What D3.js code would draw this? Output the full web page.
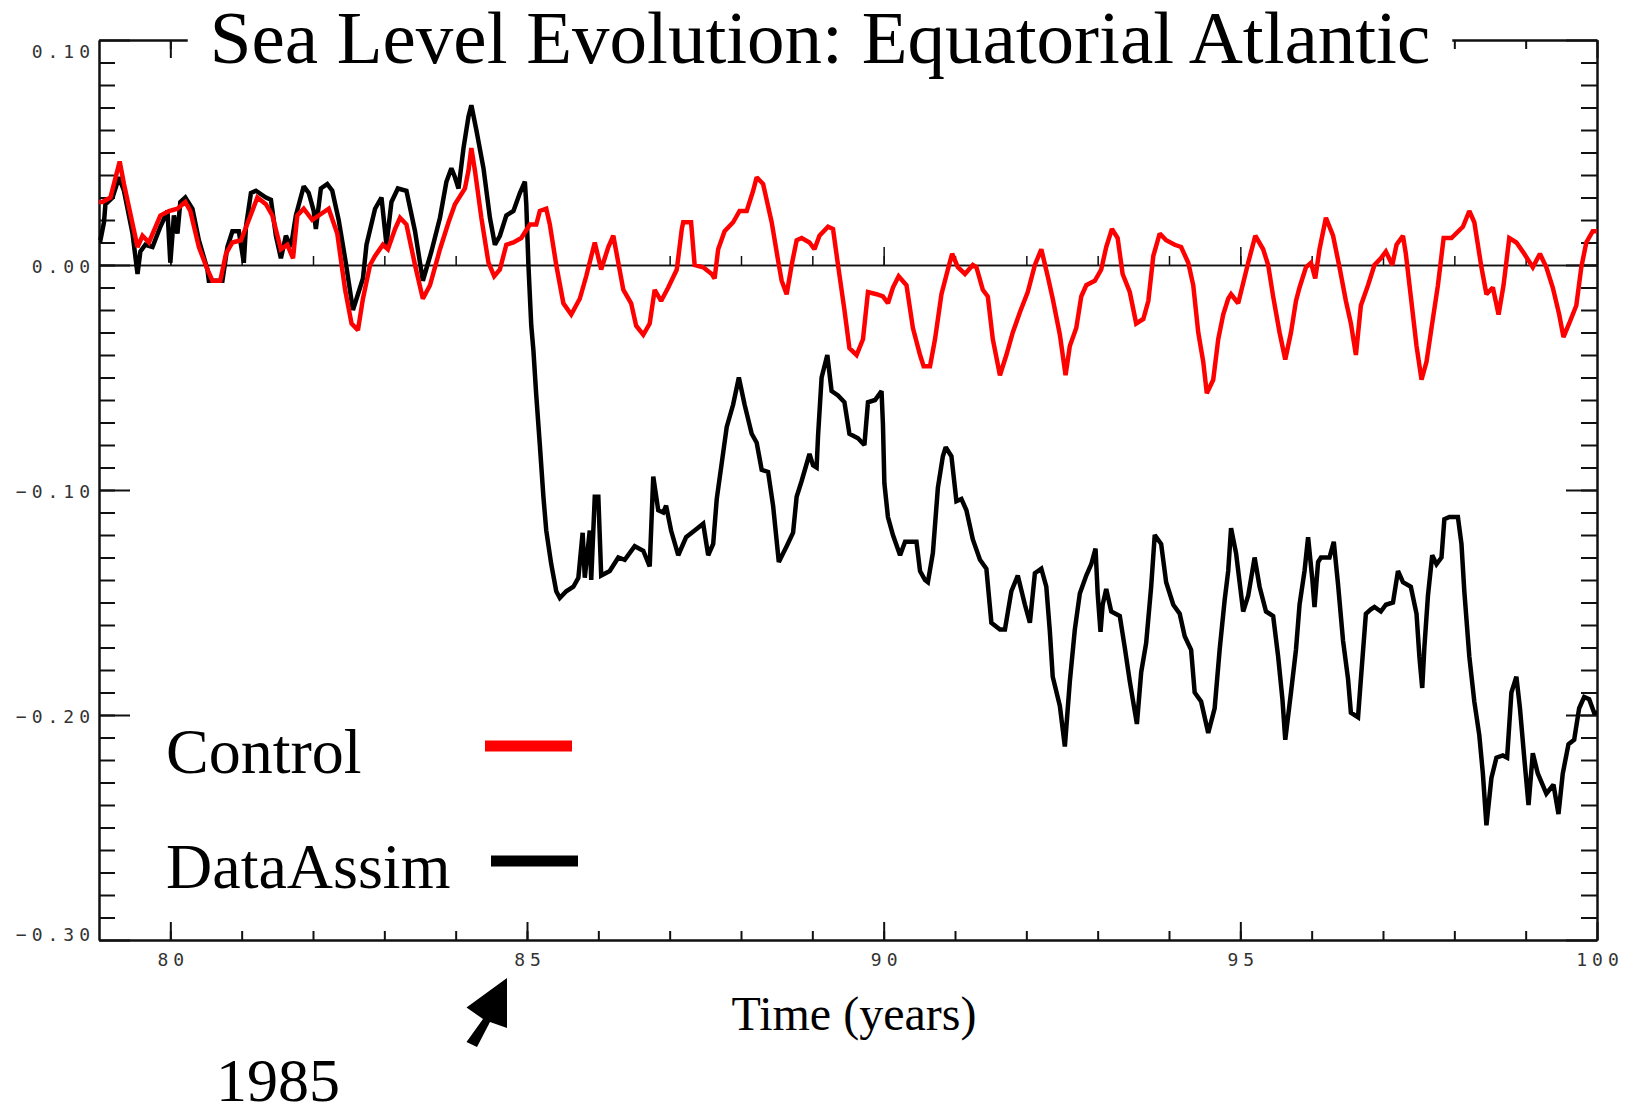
<!DOCTYPE html>
<html>
<head>
<meta charset="utf-8">
<style>
  body { margin: 0; background: #fff; }
  svg { display: block; background: #fff; }
  .axis path, .axis line { stroke: #111; stroke-width: 2; }
  .zero path, .zero line { stroke: #111; stroke-width: 1.5; }
  .axis text { font-family: "DejaVu Sans Mono", monospace; font-size: 18px; fill: #333; letter-spacing: 5px; }
  .serif { font-family: "Liberation Serif", "Times New Roman", serif; fill: #000; }
</style>
</head>
<body>
<svg id="chart" width="1631" height="1109"></svg>
<script src="https://cdn.jsdelivr.net/npm/d3@7"></script>
<script>
// ---- data (time in model years, sea level in m) ----
const controlYears = [79.00, 79.05, 79.16, 79.29, 79.35, 79.54, 79.61, 79.70, 79.86, 79.98, 80.10, 80.21, 80.28, 80.40, 80.52, 80.59, 80.70, 80.78, 80.87, 80.99,
  81.10, 81.22, 81.34, 81.43, 81.55, 81.64, 81.72, 81.78, 81.87, 81.99, 82.08, 82.22, 82.34, 82.45, 82.54, 82.63, 82.70, 82.80, 82.87, 82.98,
  83.05, 83.15, 83.22, 83.31, 83.43, 83.54, 83.64, 83.78, 83.90, 83.99, 84.13, 84.18, 84.22, 84.27, 84.36, 84.46, 84.54, 84.62, 84.71, 84.81,
  84.92, 85.04, 85.13, 85.18, 85.27, 85.32, 85.41, 85.51, 85.62, 85.74, 85.83, 85.95, 86.04, 86.14, 86.21, 86.35, 86.46, 86.53, 86.63, 86.72,
  86.79, 86.88, 86.98, 87.10, 87.17, 87.19, 87.30, 87.35, 87.47, 87.59, 87.63, 87.68, 87.77, 87.89, 87.98, 88.08, 88.17, 88.22, 88.31, 88.43,
  88.52, 88.57, 88.64, 88.71, 88.78, 88.85, 88.96, 89.03, 89.10, 89.22, 89.29, 89.36, 89.45, 89.52, 89.62, 89.71, 89.78, 89.90, 89.99, 90.06,
  90.13, 90.21, 90.32, 90.41, 90.51, 90.56, 90.65, 90.72, 90.81, 90.90, 90.96, 91.04, 91.14, 91.25, 91.30, 91.39, 91.46, 91.53, 91.63, 91.72,
  91.81, 91.91, 92.02, 92.12, 92.21, 92.30, 92.37, 92.47, 92.55, 92.61, 92.70, 92.77, 92.84, 92.96, 93.05, 93.12, 93.20, 93.28, 93.35, 93.45,
  93.54, 93.64, 93.71, 93.78, 93.87, 93.96, 94.08, 94.17, 94.27, 94.34, 94.41, 94.48, 94.53, 94.62, 94.69, 94.76, 94.83, 94.87, 94.97, 95.04,
  95.11, 95.21, 95.32, 95.39, 95.46, 95.55, 95.63, 95.71, 95.78, 95.83, 95.92, 95.99, 96.05, 96.11, 96.20, 96.30, 96.39, 96.48, 96.55, 96.62,
  96.69, 96.79, 96.88, 96.97, 97.04, 97.13, 97.19, 97.28, 97.32, 97.39, 97.47, 97.54, 97.61, 97.68, 97.77, 97.85, 97.96, 98.12, 98.21, 98.28,
  98.38, 98.45, 98.54, 98.62, 98.69, 98.77, 98.87, 98.98, 99.10, 99.20, 99.29, 99.38, 99.47, 99.53, 99.61, 99.71, 99.78, 99.85, 99.94, 100.00];
const controlLevel = [0.028, 0.028, 0.030, 0.046, 0.036, 0.008, 0.013, 0.010, 0.022, 0.024, 0.025, 0.028, 0.024, 0.008, -0.002, -0.007, -0.007, 0.005, 0.010, 0.011,
  0.020, 0.030, 0.027, 0.022, 0.007, 0.009, 0.003, 0.022, 0.025, 0.020, 0.022, 0.025, 0.014, -0.011, -0.026, -0.029, -0.015, 0.000, 0.004, 0.009,
  0.007, 0.016, 0.021, 0.018, 0.000, -0.015, -0.009, 0.007, 0.019, 0.027, 0.034, 0.042, 0.052, 0.042, 0.021, 0.001, -0.005, -0.002, 0.009, 0.010,
  0.012, 0.018, 0.018, 0.024, 0.025, 0.018, 0.000, -0.017, -0.022, -0.015, -0.005, 0.010, -0.002, 0.008, 0.013, -0.011, -0.017, -0.027, -0.031, -0.026,
  -0.011, -0.016, -0.010, -0.002, 0.016, 0.019, 0.019, 0.000, -0.001, -0.004, -0.006, 0.007, 0.015, 0.019, 0.024, 0.024, 0.033, 0.039, 0.036, 0.019,
  0.002, -0.007, -0.013, 0.000, 0.011, 0.012, 0.010, 0.007, 0.013, 0.017, 0.016, 0.000, -0.020, -0.037, -0.040, -0.033, -0.012, -0.013, -0.014, -0.017,
  -0.010, -0.005, -0.009, -0.028, -0.040, -0.045, -0.045, -0.033, -0.013, -0.002, 0.005, -0.001, -0.004, 0.000, -0.001, -0.011, -0.014, -0.033, -0.049, -0.040,
  -0.030, -0.021, -0.012, 0.000, 0.007, -0.005, -0.015, -0.031, -0.049, -0.036, -0.028, -0.014, -0.009, -0.007, -0.002, 0.008, 0.016, 0.012, -0.004, -0.012,
  -0.026, -0.024, -0.016, 0.004, 0.014, 0.011, 0.009, 0.008, 0.001, -0.009, -0.030, -0.043, -0.057, -0.051, -0.033, -0.022, -0.015, -0.013, -0.017, -0.008,
  0.001, 0.013, 0.007, 0.000, -0.014, -0.030, -0.042, -0.030, -0.016, -0.010, -0.001, 0.001, -0.006, 0.007, 0.021, 0.013, -0.001, -0.016, -0.026, -0.040,
  -0.018, -0.009, 0.000, 0.003, 0.006, 0.000, 0.009, 0.013, 0.005, -0.014, -0.036, -0.051, -0.043, -0.028, -0.009, 0.012, 0.012, 0.017, 0.024, 0.019,
  -0.001, -0.013, -0.010, -0.022, -0.009, 0.012, 0.010, 0.005, -0.001, 0.005, -0.001, -0.010, -0.022, -0.032, -0.026, -0.018, -0.001, 0.010, 0.015, 0.015];

const assimYears = [79.00, 79.02, 79.07, 79.09, 79.19, 79.28, 79.35, 79.47, 79.54, 79.58, 79.65, 79.75, 79.86, 79.96, 80.00, 80.05, 80.10, 80.14, 80.21, 80.31,
  80.40, 80.52, 80.54, 80.73, 80.80, 80.87, 80.96, 81.03, 81.06, 81.13, 81.20, 81.34, 81.41, 81.48, 81.55, 81.62, 81.69, 81.76, 81.87, 81.94,
  82.01, 82.04, 82.11, 82.20, 82.27, 82.36, 82.46, 82.56, 82.70, 82.75, 82.87, 82.96, 83.03, 83.10, 83.19, 83.31, 83.43, 83.54, 83.66, 83.78,
  83.87, 83.94, 83.99, 84.04, 84.11, 84.18, 84.22, 84.29, 84.39, 84.48, 84.55, 84.62, 84.71, 84.81, 84.90, 84.97, 84.99, 85.02, 85.06, 85.09,
  85.13, 85.18, 85.23, 85.27, 85.34, 85.41, 85.46, 85.55, 85.65, 85.72, 85.78, 85.81, 85.88, 85.90, 85.95, 86.00, 86.04, 86.16, 86.28, 86.37,
  86.51, 86.63, 86.72, 86.77, 86.84, 86.91, 86.95, 87.02, 87.12, 87.23, 87.35, 87.47, 87.54, 87.61, 87.66, 87.73, 87.80, 87.89, 87.97, 88.05,
  88.15, 88.22, 88.29, 88.38, 88.45, 88.53, 88.64, 88.73, 88.78, 88.85, 88.96, 89.01, 89.06, 89.08, 89.13, 89.21, 89.27, 89.36, 89.45, 89.52,
  89.64, 89.73, 89.78, 89.88, 89.97, 89.99, 90.01, 90.06, 90.13, 90.23, 90.30, 90.46, 90.51, 90.58, 90.62, 90.69, 90.76, 90.83, 90.87, 90.95,
  91.02, 91.09, 91.16, 91.25, 91.35, 91.44, 91.51, 91.63, 91.70, 91.79, 91.88, 91.98, 92.05, 92.12, 92.21, 92.28, 92.33, 92.37, 92.47, 92.54,
  92.61, 92.68, 92.75, 92.84, 92.91, 92.97, 93.00, 93.04, 93.07, 93.12, 93.19, 93.31, 93.38, 93.45, 93.55, 93.61, 93.68, 93.75, 93.80, 93.89,
  93.96, 94.06, 94.15, 94.22, 94.31, 94.36, 94.45, 94.55, 94.64, 94.71, 94.78, 94.83, 94.87, 94.94, 94.99, 95.04, 95.11, 95.20, 95.27, 95.36,
  95.46, 95.53, 95.59, 95.63, 95.71, 95.78, 95.83, 95.90, 95.95, 96.01, 96.04, 96.09, 96.13, 96.25, 96.31, 96.37, 96.44, 96.51, 96.55, 96.65,
  96.69, 96.76, 96.83, 96.88, 96.97, 97.04, 97.14, 97.21, 97.28, 97.39, 97.47, 97.51, 97.55, 97.58, 97.63, 97.69, 97.75, 97.82, 97.86, 97.93,
  98.05, 98.10, 98.14, 98.21, 98.28, 98.35, 98.40, 98.45, 98.52, 98.59, 98.68, 98.74, 98.80, 98.87, 98.92, 98.98, 99.04, 99.10, 99.17, 99.29,
  99.39, 99.46, 99.52, 99.60, 99.68, 99.75, 99.82, 99.89, 99.96, 100.00];
const assimLevel = [0.011, 0.011, 0.019, 0.027, 0.030, 0.039, 0.033, 0.014, -0.004, 0.006, 0.009, 0.008, 0.017, 0.024, 0.001, 0.022, 0.014, 0.028, 0.030, 0.025,
  0.011, -0.002, -0.007, -0.007, 0.008, 0.015, 0.015, 0.001, 0.017, 0.032, 0.033, 0.030, 0.029, 0.013, 0.003, 0.013, 0.008, 0.022, 0.035, 0.032,
  0.024, 0.016, 0.034, 0.036, 0.033, 0.020, 0.001, -0.020, -0.006, 0.009, 0.025, 0.030, 0.009, 0.028, 0.034, 0.033, 0.015, -0.007, 0.006, 0.021,
  0.037, 0.043, 0.039, 0.034, 0.052, 0.066, 0.071, 0.060, 0.043, 0.021, 0.009, 0.013, 0.022, 0.024, 0.032, 0.037, 0.027, 0.000, -0.027, -0.038,
  -0.058, -0.080, -0.103, -0.118, -0.133, -0.145, -0.148, -0.145, -0.143, -0.139, -0.119, -0.139, -0.118, -0.140, -0.103, -0.103, -0.138, -0.136, -0.130, -0.131,
  -0.125, -0.127, -0.134, -0.094, -0.109, -0.110, -0.107, -0.118, -0.129, -0.121, -0.118, -0.115, -0.129, -0.124, -0.104, -0.088, -0.072, -0.062, -0.050, -0.062,
  -0.075, -0.079, -0.091, -0.092, -0.107, -0.132, -0.125, -0.119, -0.103, -0.096, -0.084, -0.089, -0.090, -0.076, -0.050, -0.040, -0.056, -0.058, -0.061, -0.075,
  -0.077, -0.080, -0.061, -0.060, -0.056, -0.071, -0.097, -0.112, -0.120, -0.129, -0.123, -0.123, -0.136, -0.140, -0.141, -0.128, -0.099, -0.085, -0.081, -0.085,
  -0.105, -0.104, -0.109, -0.122, -0.131, -0.135, -0.159, -0.162, -0.162, -0.145, -0.138, -0.151, -0.159, -0.137, -0.135, -0.143, -0.163, -0.183, -0.196, -0.214,
  -0.185, -0.162, -0.146, -0.138, -0.133, -0.126, -0.146, -0.163, -0.151, -0.144, -0.154, -0.156, -0.170, -0.185, -0.204, -0.181, -0.168, -0.143, -0.120, -0.124,
  -0.141, -0.151, -0.155, -0.165, -0.171, -0.190, -0.194, -0.208, -0.197, -0.171, -0.149, -0.136, -0.117, -0.128, -0.141, -0.154, -0.147, -0.130, -0.143, -0.154,
  -0.156, -0.174, -0.193, -0.211, -0.190, -0.171, -0.151, -0.136, -0.121, -0.140, -0.152, -0.132, -0.130, -0.130, -0.123, -0.142, -0.167, -0.184, -0.199, -0.201,
  -0.184, -0.155, -0.153, -0.152, -0.154, -0.151, -0.150, -0.136, -0.141, -0.143, -0.155, -0.174, -0.188, -0.170, -0.147, -0.129, -0.133, -0.130, -0.113, -0.112,
  -0.112, -0.124, -0.145, -0.174, -0.194, -0.209, -0.226, -0.249, -0.228, -0.219, -0.218, -0.219, -0.190, -0.183, -0.197, -0.219, -0.240, -0.217, -0.226, -0.235,
  -0.231, -0.244, -0.226, -0.213, -0.211, -0.197, -0.192, -0.193, -0.199, -0.199];

const yTickValues = [0.10, 0.00, -0.10, -0.20, -0.30];
const xTickValues = [80, 85, 90, 95, 100];
const seriesNames = ["Control", "DataAssim"];
const seriesColors = ["#ff0000", "#000000"];

// ---- layout ----
const svg = d3.select("#chart");
const x = d3.scaleLinear().domain([79, 100]).range([99, 1597]);
const y = d3.scaleLinear().domain([-0.3, 0.1]).range([940, 40]);

const xMinor = d3.range(80, 100);
const yMinor = d3.range(-29, 10).map(d => d / 100);

function addAxis(axis, cls, tx, ty) {
  return svg.append("g").attr("class", cls).attr("transform", `translate(${tx},${ty})`).call(axis);
}

// left
addAxis(d3.axisLeft(y).tickValues(yMinor).tickSizeInner(-16).tickSizeOuter(0).tickFormat(""), "axis", x(79), 0);
const yAx = addAxis(d3.axisLeft(y).tickValues(yTickValues).tickSizeInner(-31).tickSizeOuter(0).tickPadding(4)
  .tickFormat(d3.format(".2f")), "axis", x(79), 0);
yAx.selectAll("text").attr("dy", (d, i) => i === 0 ? "0.95em" : (d === -0.3 ? "0.05em" : "0.42em"));
// right
addAxis(d3.axisRight(y).tickValues(yMinor).tickSizeInner(-16).tickSizeOuter(0).tickFormat(""), "axis", x(100), 0);
addAxis(d3.axisRight(y).tickValues(yTickValues).tickSizeInner(-31).tickSizeOuter(0).tickFormat(""), "axis", x(100), 0);
// bottom
addAxis(d3.axisBottom(x).tickValues(xMinor).tickSizeInner(-9).tickSizeOuter(0).tickFormat(""), "axis", 0, y(-0.3));
const xAx = addAxis(d3.axisBottom(x).tickValues(xTickValues).tickSizeInner(-18).tickSizeOuter(0).tickPadding(13)
  .tickFormat(d3.format("d")), "axis", 0, y(-0.3));
xAx.selectAll("text").attr("dx", "2.5px");
// top
addAxis(d3.axisTop(x).tickValues(xMinor).tickSizeInner(-9).tickSizeOuter(0).tickFormat(""), "axis", 0, y(0.1));
addAxis(d3.axisTop(x).tickValues(xTickValues).tickSizeInner(-18).tickSizeOuter(0).tickFormat(""), "axis", 0, y(0.1));
// zero line with upward ticks
addAxis(d3.axisTop(x).tickValues(xMinor).tickSizeInner(9).tickSizeOuter(0).tickFormat(""), "zero", 0, y(0));
addAxis(d3.axisTop(x).tickValues(xTickValues).tickSizeInner(18).tickSizeOuter(0).tickFormat(""), "zero", 0, y(0));

// ---- series ----
const line = d3.line().x(d => x(d[0])).y(d => y(d[1]));
const series = [d3.zip(controlYears, controlLevel), d3.zip(assimYears, assimLevel)];
[1, 0].forEach(i => {
  svg.append("path")
    .datum(series[i])
    .attr("fill", "none")
    .attr("stroke", seriesColors[i])
    .attr("stroke-width", 4.5)
    .attr("stroke-linejoin", "miter")
    .attr("stroke-miterlimit", 2)
    .attr("d", line);
});

// ---- title with white box over top axis ----
const title = svg.append("text").attr("class", "serif title")
  .attr("x", 820).attr("y", 63).attr("text-anchor", "middle")
  .style("font-size", "75px")
  .text("Sea Level Evolution: Equatorial Atlantic");
const tb = title.node().getBBox();
svg.insert("rect", "text.title")
  .attr("x", tb.x - 22).attr("y", 0)
  .attr("width", tb.width + 44).attr("height", 64)
  .attr("fill", "#fff");

// x axis title
svg.append("text").attr("class", "serif")
  .attr("x", (x(79) + x(100)) / 2 + 6).attr("y", 1030).attr("text-anchor", "middle")
  .style("font-size", "48px")
  .text("Time (years)");

// ---- legend ----
const legendRows = [773, 888];
seriesNames.forEach((name, i) => {
  svg.append("text").attr("class", "serif")
    .attr("x", 166).attr("y", legendRows[i])
    .style("font-size", "64px")
    .text(name);
  svg.append("line")
    .attr("x1", 485 + i * 6).attr("x2", 572 + i * 6)
    .attr("y1", legendRows[i] - 27).attr("y2", legendRows[i] - 27)
    .attr("stroke", seriesColors[i]).attr("stroke-width", 11);
});

// ---- 1985 arrow annotation ----
const ax = x(85) - 20, ay = y(-0.3) + 38;
const arrowShape = [[0, 0], [0, 50], [-17, 44], [-30, 69], [-40.5, 64], [-24, 41], [-40.5, 29.5]];
svg.append("polygon")
  .attr("points", arrowShape.map(p => [ax + p[0], ay + p[1]].join(",")).join(" "))
  .attr("fill", "#000");
svg.append("text").attr("class", "serif")
  .attr("x", 216).attr("y", 1101)
  .style("font-size", "62px")
  .text("1985");
</script>
</body>
</html>
